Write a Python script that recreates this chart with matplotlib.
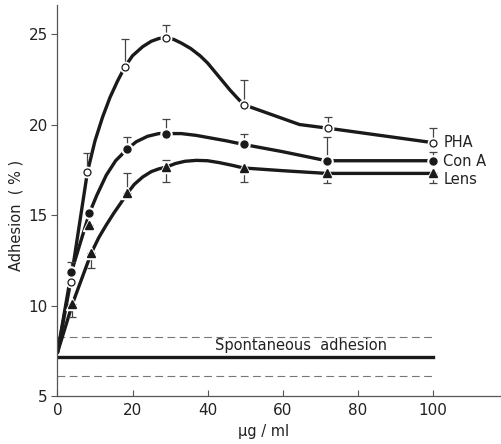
import matplotlib
matplotlib.use("Agg")
import matplotlib.pyplot as plt

plt.rcParams['font.family'] = ['DejaVu Sans']

pha_x = [3.5, 8, 18, 29, 49.6, 72, 100]
pha_y = [11.3, 17.4, 23.2, 24.8, 21.1, 19.8, 19.0]
pha_err_up = [0, 1.05, 1.5, 0.7, 1.35, 0.6, 0.8]
pha_err_lo = [0, 0, 0, 0, 0, 0, 0]

cona_x = [3.7, 8.5, 18.6, 29, 49.6, 71.7, 100]
cona_y = [11.85, 15.1, 18.65, 19.5, 18.9, 18.0, 18.0]
cona_err_up = [0.55, 0, 0.65, 0.8, 0.6, 1.3, 0.5]
cona_err_lo = [0, 0, 0, 0, 0, 0, 0]

lens_x = [4, 8.5, 9, 18.6, 29, 49.6, 71.7, 100]
lens_y = [10.1, 14.45, 12.9, 16.2, 17.65, 17.6, 17.3, 17.3]
lens_err_up = [0, 0, 0, 1.1, 0.4, 0, 0, 0]
lens_err_lo = [0.75, 0.25, 0.8, 0, 0.85, 0.8, 0.55, 0.55]

# ---- hand-drawn curves ----
pha_curve_x = [0, 3.5, 8, 10, 12, 14, 16, 18, 20, 22.7, 25, 27, 29, 31, 33, 35.5,
               38, 40, 42, 44, 46, 48, 49.6, 64.5, 72, 100]
pha_curve_y = [7.4, 11.3, 17.4, 19.1, 20.4, 21.5, 22.4, 23.2, 23.8, 24.3, 24.6, 24.75,
               24.8, 24.7, 24.5, 24.2, 23.8, 23.4, 22.9, 22.4, 21.9, 21.45, 21.1,
               20.0, 19.8, 19.0]

cona_curve_x = [0, 3.7, 8.5, 10.5, 13, 15.5, 18.6, 21, 24, 27, 29, 33, 37, 41, 45,
                49.6, 60, 71.7, 100]
cona_curve_y = [7.4, 11.85, 15.1, 16.1, 17.2, 18.0, 18.65, 19.05, 19.35, 19.5, 19.5,
                19.5, 19.4, 19.25, 19.1, 18.9, 18.5, 18.0, 18.0]

lens_curve_x = [0, 4, 9, 11, 13, 15, 17, 18.6, 20.5, 22.7, 25, 27, 29, 31.5, 34, 37,
                40, 43, 46.5, 49.6, 60, 71.7, 100]
lens_curve_y = [7.4, 10.1, 12.9, 13.75, 14.45, 15.1, 15.7, 16.2, 16.7, 17.1, 17.4,
                17.55, 17.65, 17.85, 17.97, 18.02, 18.0, 17.9, 17.75, 17.6, 17.45,
                17.3, 17.3]

# spontaneous adhesion level and its range
spont_x = [0, 100]
spont_mean = 7.15
spont_hi = 8.25
spont_lo = 6.1

series_labels = ["PHA", "Con A", "Lens"]
label_y = [19.0, 17.95, 16.95]

xticks = [0, 20, 40, 60, 80, 100]
yticks = [5, 10, 15, 20, 25]

fig = plt.figure(figsize=(5.02, 4.44), dpi=100)
ax = fig.add_axes([0.1145, 0.108, 0.882, 0.8806])
ax.set_xlim(0, 118)
ax.set_ylim(5, 26.6)

ink = '#1a1a1a'
lw = 2.4

# curves
for cx, cy in [(pha_curve_x, pha_curve_y), (cona_curve_x, cona_curve_y),
               (lens_curve_x, lens_curve_y)]:
    ax.plot(cx, cy, color=ink, lw=lw, zorder=2, solid_capstyle='round',
            solid_joinstyle='round')

# error bars
for xs, ys, lo, up in [(pha_x, pha_y, pha_err_lo, pha_err_up),
                       (cona_x, cona_y, cona_err_lo, cona_err_up),
                       (lens_x, lens_y, lens_err_lo, lens_err_up)]:
    sel = [i for i in range(len(xs)) if lo[i] > 0 or up[i] > 0]
    ax.errorbar([xs[i] for i in sel], [ys[i] for i in sel],
                yerr=[[lo[i] for i in sel], [up[i] for i in sel]],
                fmt='none', ecolor='#444444', elinewidth=0.9, capsize=3,
                capthick=0.9, zorder=3)

# white halos (gaps in the line around the symbols)
ax.plot(pha_x, pha_y, 'o', ms=7.5, color='white', zorder=4)
ax.plot(cona_x, cona_y, 'o', ms=8, color='white', zorder=4)
ax.plot(lens_x, lens_y, '^', ms=8.5, color='white', zorder=4)

# symbols
ax.plot(pha_x, pha_y, 'o', ms=5, mfc='white', mec=ink, mew=0.9, zorder=5)
ax.plot(cona_x, cona_y, 'o', ms=5, color=ink, zorder=5)
ax.plot(lens_x, lens_y, '^', ms=5.5, color=ink, zorder=5)

# spontaneous adhesion
ax.plot(spont_x, [spont_mean, spont_mean], color=ink, lw=2.4, zorder=2)
ax.plot(spont_x, [spont_hi, spont_hi], color='#777777', lw=0.8,
        dashes=(7, 4), zorder=1)
ax.plot(spont_x, [spont_lo, spont_lo], color='#777777', lw=0.8,
        dashes=(7, 4), zorder=1)
ax.text(65, 7.8, "Spontaneous  adhesion", ha='center', va='center',
        fontsize=10.5, color='#222222')

for lab, ly in zip(series_labels, label_y):
    ax.text(102.8, ly, lab, ha='left', va='center', fontsize=10.5, color='#222222')

# axes styling
for s in ['top', 'right']:
    ax.spines[s].set_visible(False)
for s in ['left', 'bottom']:
    ax.spines[s].set_color('#555555')
    ax.spines[s].set_linewidth(0.9)

ax.set_xticks(xticks)
ax.set_yticks(yticks)
ax.tick_params(axis='x', direction='in', length=4, width=0.8, colors='#555555',
               labelcolor='#222222', labelsize=11, pad=5)
ax.tick_params(axis='y', direction='out', length=4, width=0.8, colors='#555555',
               labelcolor='#222222', labelsize=11, pad=3)

ax.set_ylabel("Adhesion  ( % )", fontsize=10.5, color='#222222')
ax.yaxis.set_label_coords(-0.077, 0.463)
ax.set_xlabel("μg / ml", fontsize=10.5, color='#222222')
ax.xaxis.set_label_coords(0.465, -0.072)

fig.savefig("out.png", dpi=100)
